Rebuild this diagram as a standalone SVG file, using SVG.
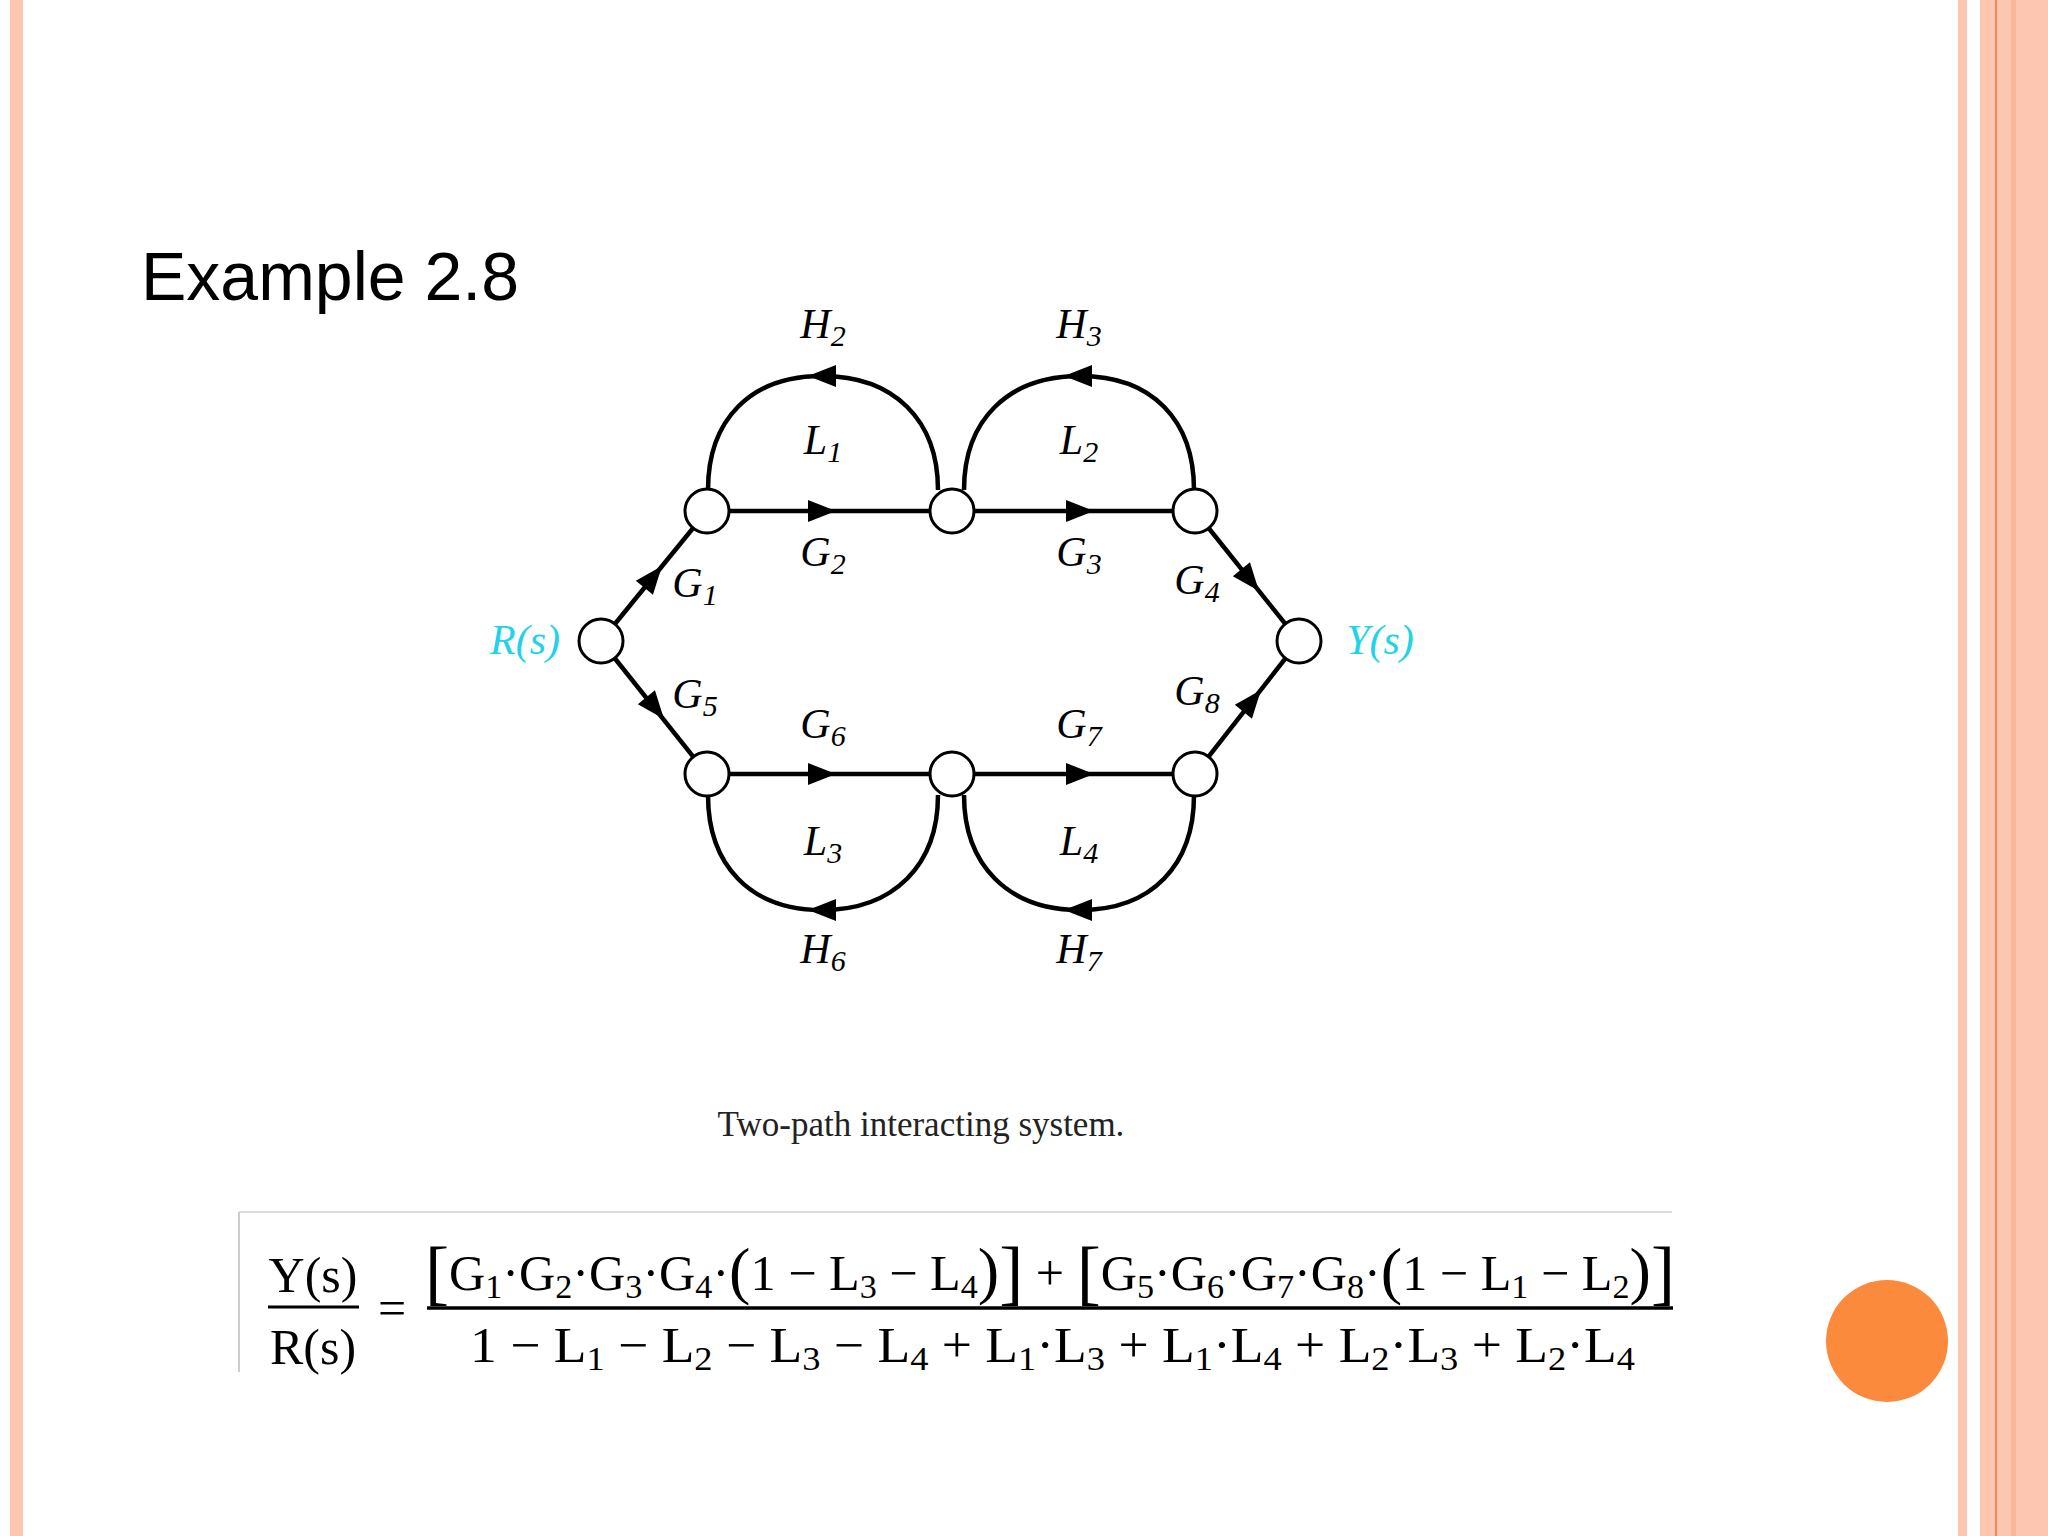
<svg xmlns="http://www.w3.org/2000/svg" width="2048" height="1536" viewBox="0 0 2048 1536">
<style>
.e{fill:none;stroke:#000;stroke-width:4.5}
.n{fill:#fff;stroke:#000;stroke-width:3}
.lb{font-family:"Liberation Serif",serif;font-style:italic;font-size:42px;text-anchor:middle}
.s{font-size:30px}
.eq{font-family:"Liberation Serif",serif;font-size:50px}
</style>
<defs><path id="ah" d="M0,0 L-28,-11 L-28,11 Z" fill="#000"/></defs>
<rect width="2048" height="1536" fill="#fff"/>
<rect x="10" y="0" width="13" height="1536" fill="#fcc6b0"/>
<rect x="1958" y="0" width="9" height="1536" fill="#fcc6b0"/>
<rect x="1980" y="0" width="68" height="1536" fill="#fcc6b0"/>
<rect x="2011" y="0" width="5" height="1536" fill="#f9b89c"/>
<rect x="1995" y="0" width="2" height="1536" fill="#f08a50"/>
<circle cx="1887" cy="1341" r="61" fill="#fb8a3c"/>
<text x="141" y="300" font-family="Liberation Sans,Arial,sans-serif" font-size="68">Example 2.8</text>
<g id="connectors">
<line class="e" x1="601" y1="641" x2="707" y2="511"/>
<line class="e" x1="601" y1="641" x2="707" y2="774"/>
<line class="e" x1="707" y1="511" x2="1195" y2="511"/>
<line class="e" x1="707" y1="774" x2="1195" y2="774"/>
<line class="e" x1="1195" y1="511" x2="1299" y2="641"/>
<line class="e" x1="1195" y1="774" x2="1299" y2="641"/>
<path class="e" d="M708,490 C708,420 750,376 822,376 C894,376 938,420 938,490"/>
<path class="e" d="M964,490 C964,420 1008,376 1080,376 C1152,376 1194,420 1194,490"/>
<path class="e" d="M708,795 C708,865 750,910 822,910 C894,910 938,865 938,795"/>
<path class="e" d="M964,795 C964,865 1008,910 1080,910 C1152,910 1194,865 1194,795"/>
<use href="#ah" transform="translate(836,511)"/>
<use href="#ah" transform="translate(1094,511)"/>
<use href="#ah" transform="translate(836,774)"/>
<use href="#ah" transform="translate(1094,774)"/>
<use href="#ah" transform="translate(662,566) rotate(-51)"/>
<use href="#ah" transform="translate(664,719) rotate(51)"/>
<use href="#ah" transform="translate(1259,591) rotate(51)"/>
<use href="#ah" transform="translate(1261,690) rotate(-51)"/>
<use href="#ah" transform="translate(808,376) rotate(180)"/>
<use href="#ah" transform="translate(1064,376) rotate(180)"/>
<use href="#ah" transform="translate(808,910) rotate(180)"/>
<use href="#ah" transform="translate(1064,910) rotate(180)"/>
</g>
<g id="R"><circle class="n" cx="601" cy="641" r="22"/></g>
<g id="n1"><circle class="n" cx="707" cy="511" r="22"/></g>
<g id="n2"><circle class="n" cx="952" cy="511" r="22"/></g>
<g id="n3"><circle class="n" cx="1195" cy="511" r="22"/></g>
<g id="n5"><circle class="n" cx="707" cy="774" r="22"/></g>
<g id="n6"><circle class="n" cx="952" cy="774" r="22"/></g>
<g id="n7"><circle class="n" cx="1195" cy="774" r="22"/></g>
<g id="Y"><circle class="n" cx="1299" cy="641" r="22"/></g>
<g id="labels">
<text class="lb" x="525" y="654" fill="#22d3e8">R(s)</text>
<text class="lb" x="1380" y="654" fill="#22d3e8">Y(s)</text>
<text class="lb" x="823" y="338">H<tspan class="s" dy="8">2</tspan></text>
<text class="lb" x="1079" y="338">H<tspan class="s" dy="8">3</tspan></text>
<text class="lb" x="823" y="454">L<tspan class="s" dy="8">1</tspan></text>
<text class="lb" x="1079" y="454">L<tspan class="s" dy="8">2</tspan></text>
<text class="lb" x="823" y="566">G<tspan class="s" dy="8">2</tspan></text>
<text class="lb" x="1079" y="566">G<tspan class="s" dy="8">3</tspan></text>
<text class="lb" x="695" y="597">G<tspan class="s" dy="8">1</tspan></text>
<text class="lb" x="1197" y="594">G<tspan class="s" dy="8">4</tspan></text>
<text class="lb" x="695" y="708">G<tspan class="s" dy="8">5</tspan></text>
<text class="lb" x="1197" y="705">G<tspan class="s" dy="8">8</tspan></text>
<text class="lb" x="823" y="738">G<tspan class="s" dy="8">6</tspan></text>
<text class="lb" x="1079" y="738">G<tspan class="s" dy="8">7</tspan></text>
<text class="lb" x="823" y="855">L<tspan class="s" dy="8">3</tspan></text>
<text class="lb" x="1079" y="855">L<tspan class="s" dy="8">4</tspan></text>
<text class="lb" x="823" y="963">H<tspan class="s" dy="8">6</tspan></text>
<text class="lb" x="1079" y="963">H<tspan class="s" dy="8">7</tspan></text>
</g>
<text x="921" y="1136" font-family="Liberation Serif,serif" font-size="35" text-anchor="middle" fill="#222">Two-path interacting system.</text>
<g id="equation">
<line x1="239" y1="1212" x2="1672" y2="1212" stroke="#ddd" stroke-width="2"/>
<line x1="239" y1="1212" x2="239" y2="1372" stroke="#ccc" stroke-width="2"/>
<text class="eq" x="313" y="1292" text-anchor="middle">Y(s)</text>
<line x1="268" y1="1307" x2="359" y2="1307" stroke="#000" stroke-width="3"/>
<text class="eq" x="313" y="1364" text-anchor="middle">R(s)</text>
<text class="eq" x="392" y="1325" text-anchor="middle">=</text>
<line x1="427" y1="1308" x2="1673" y2="1308" stroke="#000" stroke-width="3.5"/>
<text class="eq" x="425" y="1290" textLength="1250" lengthAdjust="spacingAndGlyphs"><tspan font-size="72" dy="6">[</tspan><tspan dy="-6">G</tspan><tspan font-size="34" dy="8">1</tspan><tspan dy="-8">·G</tspan><tspan font-size="34" dy="8">2</tspan><tspan dy="-8">·G</tspan><tspan font-size="34" dy="8">3</tspan><tspan dy="-8">·G</tspan><tspan font-size="34" dy="8">4</tspan><tspan dy="-8">·</tspan><tspan font-size="64" dy="2">(</tspan><tspan dy="-2">1 − L</tspan><tspan font-size="34" dy="8">3</tspan><tspan dy="-8"> − L</tspan><tspan font-size="34" dy="8">4</tspan><tspan font-size="64" dy="-6">)</tspan><tspan font-size="72" dy="4">]</tspan><tspan dy="-6"> + </tspan><tspan font-size="72" dy="6">[</tspan><tspan dy="-6">G</tspan><tspan font-size="34" dy="8">5</tspan><tspan dy="-8">·G</tspan><tspan font-size="34" dy="8">6</tspan><tspan dy="-8">·G</tspan><tspan font-size="34" dy="8">7</tspan><tspan dy="-8">·G</tspan><tspan font-size="34" dy="8">8</tspan><tspan dy="-8">·</tspan><tspan font-size="64" dy="2">(</tspan><tspan dy="-2">1 − L</tspan><tspan font-size="34" dy="8">1</tspan><tspan dy="-8"> − L</tspan><tspan font-size="34" dy="8">2</tspan><tspan font-size="64" dy="-6">)</tspan><tspan font-size="72" dy="4">]</tspan></text>
<text class="eq" x="470" y="1362" textLength="1165" lengthAdjust="spacingAndGlyphs">1 − L<tspan font-size="34" dy="8">1</tspan><tspan dy="-8"> − L</tspan><tspan font-size="34" dy="8">2</tspan><tspan dy="-8"> − L</tspan><tspan font-size="34" dy="8">3</tspan><tspan dy="-8"> − L</tspan><tspan font-size="34" dy="8">4</tspan><tspan dy="-8"> + L</tspan><tspan font-size="34" dy="8">1</tspan><tspan dy="-8">·L</tspan><tspan font-size="34" dy="8">3</tspan><tspan dy="-8"> + L</tspan><tspan font-size="34" dy="8">1</tspan><tspan dy="-8">·L</tspan><tspan font-size="34" dy="8">4</tspan><tspan dy="-8"> + L</tspan><tspan font-size="34" dy="8">2</tspan><tspan dy="-8">·L</tspan><tspan font-size="34" dy="8">3</tspan><tspan dy="-8"> + L</tspan><tspan font-size="34" dy="8">2</tspan><tspan dy="-8">·L</tspan><tspan font-size="34" dy="8">4</tspan></text>
</g>
</svg>
